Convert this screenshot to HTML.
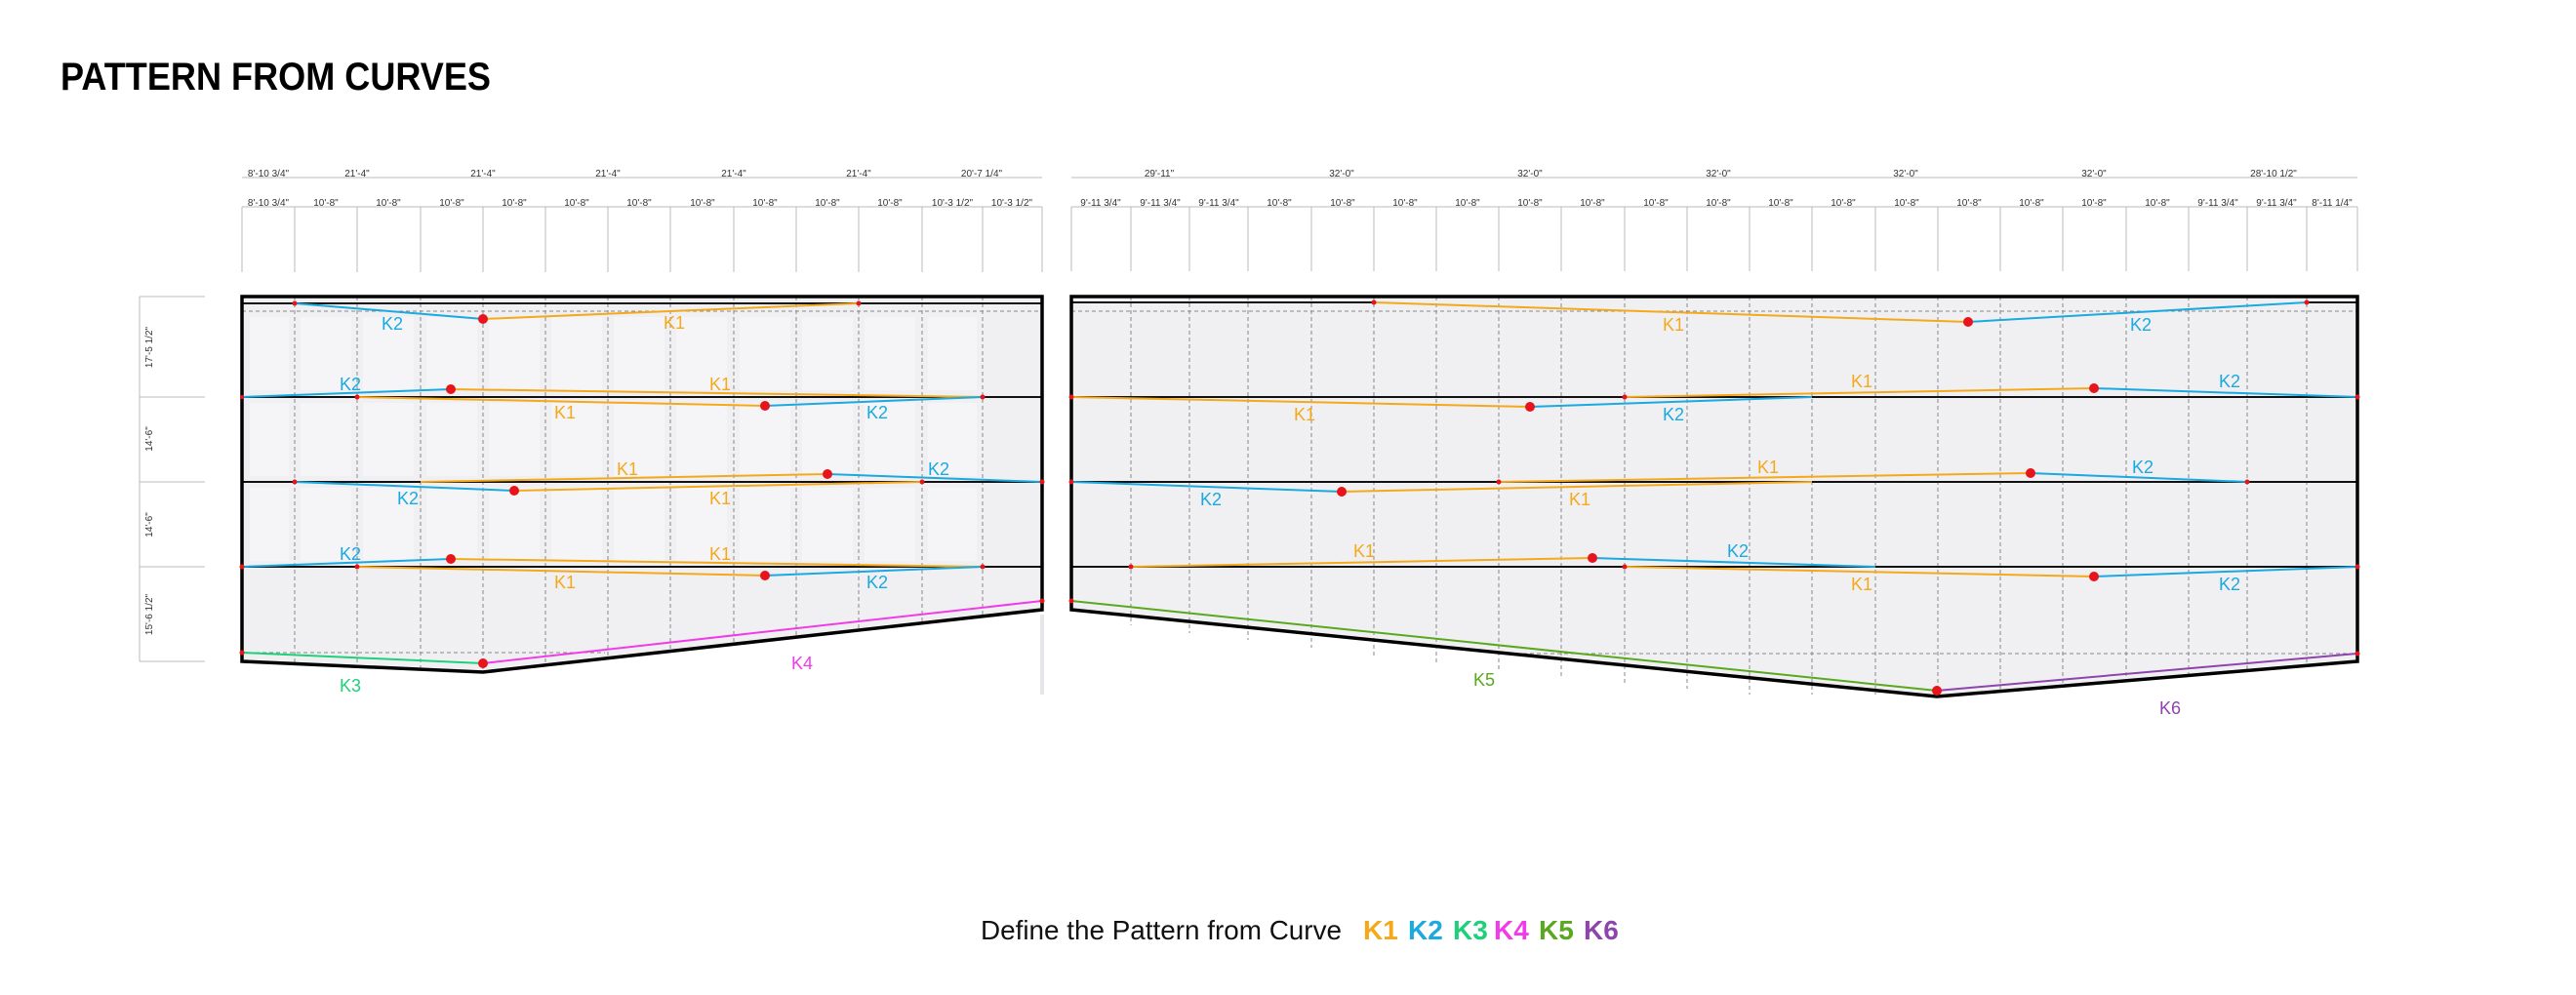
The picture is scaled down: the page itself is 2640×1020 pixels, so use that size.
<!DOCTYPE html>
<html><head><meta charset="utf-8"><style>
html,body{margin:0;padding:0;background:#fff;}
svg{display:block;}
.d{font-family:"Liberation Sans",sans-serif;font-size:10px;fill:#333;text-anchor:middle;}
.l{font-family:"Liberation Sans",sans-serif;font-size:18px;text-anchor:middle;}
</style></head><body>
<svg width="2640" height="1020" viewBox="0 0 2640 1020" xmlns="http://www.w3.org/2000/svg">
<rect width="2640" height="1020" fill="#fff"/>
<text x="62" y="92" font-family="Liberation Sans, sans-serif" font-weight="bold" font-size="40" textLength="441" lengthAdjust="spacingAndGlyphs" fill="#000">PATTERN FROM CURVES</text>

<!-- panels fill -->
<polygon points="248,304 1068,304 1068,625 495,689 248,678" fill="#f0f0f3"/>
<polygon points="1098,304 2416,304 2416,678 1985,714 1098,625" fill="#f0f0f3"/>
<g fill="#f5f5f8">
<rect x="256" y="325" width="40" height="75"/><rect x="308" y="325" width="52" height="75"/><rect x="372" y="325" width="52" height="75"/><rect x="437" y="325" width="52" height="75"/><rect x="501" y="325" width="52" height="75"/><rect x="565" y="325" width="52" height="75"/><rect x="629" y="325" width="52" height="75"/><rect x="693" y="325" width="52" height="75"/><rect x="758" y="325" width="52" height="75"/><rect x="822" y="325" width="52" height="75"/><rect x="886" y="325" width="52" height="75"/><rect x="951" y="325" width="50" height="75"/>
<rect x="256" y="413" width="40" height="75"/><rect x="308" y="413" width="52" height="75"/><rect x="372" y="413" width="52" height="75"/><rect x="437" y="413" width="52" height="75"/><rect x="501" y="413" width="52" height="75"/><rect x="565" y="413" width="52" height="75"/><rect x="629" y="413" width="52" height="75"/><rect x="693" y="413" width="52" height="75"/><rect x="758" y="413" width="52" height="75"/><rect x="822" y="413" width="52" height="75"/><rect x="886" y="413" width="52" height="75"/><rect x="951" y="413" width="50" height="75"/>
<rect x="256" y="500" width="40" height="75"/><rect x="308" y="500" width="52" height="75"/><rect x="372" y="500" width="52" height="75"/><rect x="437" y="500" width="52" height="75"/><rect x="501" y="500" width="52" height="75"/><rect x="565" y="500" width="52" height="75"/><rect x="629" y="500" width="52" height="75"/><rect x="693" y="500" width="52" height="75"/><rect x="758" y="500" width="52" height="75"/><rect x="822" y="500" width="52" height="75"/><rect x="886" y="500" width="52" height="75"/><rect x="951" y="500" width="50" height="75"/>
</g>
<!-- dashed verticals -->
<g stroke="#888" stroke-width="1" stroke-dasharray="4,3">
<line x1="302" y1="304" x2="302" y2="680"/><line x1="366" y1="304" x2="366" y2="683"/><line x1="431" y1="304" x2="431" y2="686"/><line x1="495" y1="304" x2="495" y2="689"/><line x1="559" y1="304" x2="559" y2="682"/><line x1="623" y1="304" x2="623" y2="675"/><line x1="687" y1="304" x2="687" y2="668"/><line x1="752" y1="304" x2="752" y2="661"/><line x1="816" y1="304" x2="816" y2="653"/><line x1="880" y1="304" x2="880" y2="646"/><line x1="945" y1="304" x2="945" y2="639"/><line x1="1007" y1="304" x2="1007" y2="632"/>
<line x1="1159" y1="304" x2="1159" y2="641"/><line x1="1219" y1="304" x2="1219" y2="649"/><line x1="1279" y1="304" x2="1279" y2="656"/><line x1="1344" y1="304" x2="1344" y2="664"/><line x1="1408" y1="304" x2="1408" y2="672"/><line x1="1472" y1="304" x2="1472" y2="679"/><line x1="1536" y1="304" x2="1536" y2="686"/><line x1="1600" y1="304" x2="1600" y2="693"/><line x1="1665" y1="304" x2="1665" y2="700"/><line x1="1729" y1="304" x2="1729" y2="706"/><line x1="1793" y1="304" x2="1793" y2="712"/><line x1="1857" y1="304" x2="1857" y2="712"/><line x1="1922" y1="304" x2="1922" y2="712"/><line x1="1986" y1="304" x2="1986" y2="714"/><line x1="2050" y1="304" x2="2050" y2="708"/><line x1="2114" y1="304" x2="2114" y2="703"/><line x1="2179" y1="304" x2="2179" y2="698"/><line x1="2243" y1="304" x2="2243" y2="693"/><line x1="2303" y1="304" x2="2303" y2="688"/><line x1="2364" y1="304" x2="2364" y2="683"/>
<line x1="248" y1="319" x2="1068" y2="319"/><line x1="1098" y1="319" x2="2416" y2="319"/>
<line x1="248" y1="669" x2="620" y2="669"/><line x1="1540" y1="670" x2="2416" y2="670"/>
</g>
<!-- row lines -->
<g stroke="#111" stroke-width="2">
<line x1="248" y1="311" x2="1068" y2="311"/><line x1="1098" y1="310" x2="1408" y2="310"/><line x1="2364" y1="310" x2="2416" y2="310"/>
<line x1="248" y1="407" x2="1068" y2="407"/><line x1="1098" y1="407" x2="2416" y2="407"/>
<line x1="248" y1="494" x2="1068" y2="494"/><line x1="1098" y1="494" x2="2416" y2="494"/>
<line x1="248" y1="581" x2="1068" y2="581"/><line x1="1098" y1="581" x2="2416" y2="581"/>
</g>
<!-- borders -->
<g fill="none" stroke="#000" stroke-width="3.5" stroke-linejoin="miter">
<polygon points="248,304 1068,304 1068,625 495,689 248,678"/>
<polygon points="1098,304 2416,304 2416,678 1985,714 1098,625"/>
</g>
<line x1="1068" y1="630" x2="1068" y2="712" stroke="#e6e6ea" stroke-width="4"/>

<!-- dimensions top -->
<g stroke="#bbb" stroke-width="1">
<line x1="248" y1="182" x2="1068" y2="182"/><line x1="1098" y1="182" x2="2416" y2="182"/>
<line x1="248" y1="212" x2="1068" y2="212"/><line x1="1098" y1="212" x2="2416" y2="212"/>
<line x1="248" y1="212" x2="248" y2="279"/><line x1="302" y1="212" x2="302" y2="279"/><line x1="366" y1="212" x2="366" y2="279"/><line x1="431" y1="212" x2="431" y2="279"/><line x1="495" y1="212" x2="495" y2="279"/><line x1="559" y1="212" x2="559" y2="279"/><line x1="623" y1="212" x2="623" y2="279"/><line x1="687" y1="212" x2="687" y2="279"/><line x1="752" y1="212" x2="752" y2="279"/><line x1="816" y1="212" x2="816" y2="279"/><line x1="880" y1="212" x2="880" y2="279"/><line x1="945" y1="212" x2="945" y2="279"/><line x1="1007" y1="212" x2="1007" y2="279"/><line x1="1068" y1="212" x2="1068" y2="279"/>
<line x1="1098" y1="212" x2="1098" y2="278"/><line x1="1159" y1="212" x2="1159" y2="278"/><line x1="1219" y1="212" x2="1219" y2="278"/><line x1="1279" y1="212" x2="1279" y2="278"/><line x1="1344" y1="212" x2="1344" y2="278"/><line x1="1408" y1="212" x2="1408" y2="278"/><line x1="1472" y1="212" x2="1472" y2="278"/><line x1="1536" y1="212" x2="1536" y2="278"/><line x1="1600" y1="212" x2="1600" y2="278"/><line x1="1665" y1="212" x2="1665" y2="278"/><line x1="1729" y1="212" x2="1729" y2="278"/><line x1="1793" y1="212" x2="1793" y2="278"/><line x1="1857" y1="212" x2="1857" y2="278"/><line x1="1922" y1="212" x2="1922" y2="278"/><line x1="1986" y1="212" x2="1986" y2="278"/><line x1="2050" y1="212" x2="2050" y2="278"/><line x1="2114" y1="212" x2="2114" y2="278"/><line x1="2179" y1="212" x2="2179" y2="278"/><line x1="2243" y1="212" x2="2243" y2="278"/><line x1="2303" y1="212" x2="2303" y2="278"/><line x1="2364" y1="212" x2="2364" y2="278"/><line x1="2416" y1="212" x2="2416" y2="278"/>
<line x1="143" y1="304" x2="143" y2="678"/>
<line x1="143" y1="304" x2="210" y2="304"/><line x1="143" y1="407" x2="210" y2="407"/><line x1="143" y1="494" x2="210" y2="494"/><line x1="143" y1="581" x2="210" y2="581"/><line x1="143" y1="678" x2="210" y2="678"/>
</g>
<g class="d">
<text x="275" y="181">8'-10 3/4"</text><text x="366" y="181">21'-4"</text><text x="495" y="181">21'-4"</text><text x="623" y="181">21'-4"</text><text x="752" y="181">21'-4"</text><text x="880" y="181">21'-4"</text><text x="1006" y="181">20'-7 1/4"</text>
<text x="275" y="211">8'-10 3/4"</text><text x="334" y="211">10'-8"</text><text x="398" y="211">10'-8"</text><text x="463" y="211">10'-8"</text><text x="527" y="211">10'-8"</text><text x="591" y="211">10'-8"</text><text x="655" y="211">10'-8"</text><text x="720" y="211">10'-8"</text><text x="784" y="211">10'-8"</text><text x="848" y="211">10'-8"</text><text x="912" y="211">10'-8"</text><text x="976" y="211">10'-3 1/2"</text><text x="1037" y="211">10'-3 1/2"</text>
<text x="1188" y="181">29'-11"</text><text x="1375" y="181">32'-0"</text><text x="1568" y="181">32'-0"</text><text x="1761" y="181">32'-0"</text><text x="1953" y="181">32'-0"</text><text x="2146" y="181">32'-0"</text><text x="2330" y="181">28'-10 1/2"</text>
<text x="1128" y="211">9'-11 3/4"</text><text x="1189" y="211">9'-11 3/4"</text><text x="1249" y="211">9'-11 3/4"</text><text x="1311" y="211">10'-8"</text><text x="1376" y="211">10'-8"</text><text x="1440" y="211">10'-8"</text><text x="1504" y="211">10'-8"</text><text x="1568" y="211">10'-8"</text><text x="1632" y="211">10'-8"</text><text x="1697" y="211">10'-8"</text><text x="1761" y="211">10'-8"</text><text x="1825" y="211">10'-8"</text><text x="1889" y="211">10'-8"</text><text x="1954" y="211">10'-8"</text><text x="2018" y="211">10'-8"</text><text x="2082" y="211">10'-8"</text><text x="2146" y="211">10'-8"</text><text x="2211" y="211">10'-8"</text><text x="2273" y="211">9'-11 3/4"</text><text x="2333" y="211">9'-11 3/4"</text><text x="2390" y="211">8'-11 1/4"</text>
<text transform="translate(156,356) rotate(-90)">17'-5 1/2"</text>
<text transform="translate(156,450) rotate(-90)">14'-6"</text>
<text transform="translate(156,538) rotate(-90)">14'-6"</text>
<text transform="translate(156,630) rotate(-90)">15'-6 1/2"</text>
</g>

<!-- curves left -->
<g fill="none" stroke-width="2">
<polyline stroke="#1aa9e0" points="302,311 495,327"/><polyline stroke="#f5a91a" points="495,327 880,311"/>
<polyline stroke="#1aa9e0" points="248,407 462,399"/><polyline stroke="#f5a91a" points="462,399 1007,407"/>
<polyline stroke="#f5a91a" points="366,407 784,416"/><polyline stroke="#1aa9e0" points="784,416 1007,407"/>
<polyline stroke="#1aa9e0" points="302,494 527,503"/><polyline stroke="#f5a91a" points="527,503 945,494"/>
<polyline stroke="#f5a91a" points="431,494 848,486"/><polyline stroke="#1aa9e0" points="848,486 1068,494"/>
<polyline stroke="#1aa9e0" points="248,581 462,573"/><polyline stroke="#f5a91a" points="462,573 1007,581"/>
<polyline stroke="#f5a91a" points="366,581 784,590"/><polyline stroke="#1aa9e0" points="784,590 1007,581"/>
<polyline stroke="#1fd07a" points="248,669 495,680"/><polyline stroke="#f03ce8" points="495,680 1068,616"/>
<!-- right -->
<polyline stroke="#f5a91a" points="1408,310 2017,330"/><polyline stroke="#1aa9e0" points="2017,330 2364,310"/>
<polyline stroke="#f5a91a" points="1098,407 1568,417"/><polyline stroke="#1aa9e0" points="1568,417 1857,407"/>
<polyline stroke="#f5a91a" points="1665,407 2146,398"/><polyline stroke="#1aa9e0" points="2146,398 2416,407"/>
<polyline stroke="#1aa9e0" points="1098,494 1375,504"/><polyline stroke="#f5a91a" points="1375,504 1857,494"/>
<polyline stroke="#f5a91a" points="1536,494 2081,485"/><polyline stroke="#1aa9e0" points="2081,485 2303,494"/>
<polyline stroke="#f5a91a" points="1159,581 1632,572"/><polyline stroke="#1aa9e0" points="1632,572 1922,581"/>
<polyline stroke="#f5a91a" points="1665,581 2146,591"/><polyline stroke="#1aa9e0" points="2146,591 2416,581"/>
<polyline stroke="#5aa81e" points="1098,616 1985,708"/><polyline stroke="#8e44ad" points="1985,708 2416,670"/>
</g>
<g fill="#e8141c">
<circle cx="302" cy="311" r="2.5"/><circle cx="880" cy="311" r="2.5"/><circle cx="495" cy="327" r="5"/>
<circle cx="462" cy="399" r="5"/><circle cx="784" cy="416" r="5"/><circle cx="366" cy="407" r="2.5"/><circle cx="1007" cy="407" r="2.5"/><circle cx="248" cy="407" r="2"/>
<circle cx="527" cy="503" r="5"/><circle cx="848" cy="486" r="5"/><circle cx="302" cy="494" r="2.5"/><circle cx="945" cy="494" r="2.5"/><circle cx="1068" cy="494" r="2.5"/>
<circle cx="462" cy="573" r="5"/><circle cx="784" cy="590" r="5"/><circle cx="248" cy="581" r="2.5"/><circle cx="366" cy="581" r="2.5"/><circle cx="1007" cy="581" r="2.5"/>
<circle cx="248" cy="669" r="2.5"/><circle cx="495" cy="680" r="5"/><circle cx="1068" cy="616" r="2.5"/>
<circle cx="1408" cy="310" r="2.5"/><circle cx="2364" cy="310" r="2.5"/><circle cx="2017" cy="330" r="5"/>
<circle cx="1098" cy="407" r="2.5"/><circle cx="1568" cy="417" r="5"/><circle cx="1665" cy="407" r="2.5"/><circle cx="2146" cy="398" r="5"/><circle cx="2416" cy="407" r="2.5"/>
<circle cx="1098" cy="494" r="2.5"/><circle cx="1375" cy="504" r="5"/><circle cx="1536" cy="494" r="2.5"/><circle cx="2081" cy="485" r="5"/><circle cx="2303" cy="494" r="2.5"/>
<circle cx="1159" cy="581" r="2.5"/><circle cx="1632" cy="572" r="5"/><circle cx="1665" cy="581" r="2.5"/><circle cx="2146" cy="591" r="5"/><circle cx="2416" cy="581" r="2.5"/>
<circle cx="1098" cy="616" r="2.5"/><circle cx="1985" cy="708" r="5"/><circle cx="2416" cy="670" r="2.5"/>
</g>
<g class="l">
<text x="402" y="338" fill="#1aa9e0">K2</text><text x="691" y="337" fill="#f5a91a">K1</text>
<text x="359" y="400" fill="#1aa9e0">K2</text><text x="738" y="400" fill="#f5a91a">K1</text><text x="579" y="429" fill="#f5a91a">K1</text><text x="899" y="429" fill="#1aa9e0">K2</text>
<text x="643" y="487" fill="#f5a91a">K1</text><text x="962" y="487" fill="#1aa9e0">K2</text><text x="418" y="517" fill="#1aa9e0">K2</text><text x="738" y="517" fill="#f5a91a">K1</text>
<text x="359" y="574" fill="#1aa9e0">K2</text><text x="738" y="574" fill="#f5a91a">K1</text><text x="579" y="603" fill="#f5a91a">K1</text><text x="899" y="603" fill="#1aa9e0">K2</text>
<text x="359" y="709" fill="#1fd07a">K3</text><text x="822" y="686" fill="#f03ce8">K4</text>
<text x="1715" y="339" fill="#f5a91a">K1</text><text x="2194" y="339" fill="#1aa9e0">K2</text>
<text x="1908" y="397" fill="#f5a91a">K1</text><text x="2285" y="397" fill="#1aa9e0">K2</text><text x="1337" y="431" fill="#f5a91a">K1</text><text x="1715" y="431" fill="#1aa9e0">K2</text>
<text x="1812" y="485" fill="#f5a91a">K1</text><text x="2196" y="485" fill="#1aa9e0">K2</text><text x="1241" y="518" fill="#1aa9e0">K2</text><text x="1619" y="518" fill="#f5a91a">K1</text>
<text x="1398" y="571" fill="#f5a91a">K1</text><text x="1781" y="571" fill="#1aa9e0">K2</text><text x="1908" y="605" fill="#f5a91a">K1</text><text x="2285" y="605" fill="#1aa9e0">K2</text>
<text x="1521" y="703" fill="#5aa81e">K5</text><text x="2224" y="732" fill="#8e44ad">K6</text>
</g>

<!-- caption -->
<g font-family="Liberation Sans, sans-serif" font-size="28">
<text x="1005" y="963" fill="#111" textLength="370" lengthAdjust="spacingAndGlyphs">Define the Pattern from Curve</text>
<g font-weight="bold">
<text x="1397" y="963" fill="#f5a91a">K1</text>
<text x="1443" y="963" fill="#1aa9e0">K2</text>
<text x="1489" y="963" fill="#1fd07a">K3</text>
<text x="1531" y="963" fill="#f03ce8">K4</text>
<text x="1577" y="963" fill="#5aa81e">K5</text>
<text x="1623" y="963" fill="#8e44ad">K6</text>
</g></g>
</svg>
</body></html>
